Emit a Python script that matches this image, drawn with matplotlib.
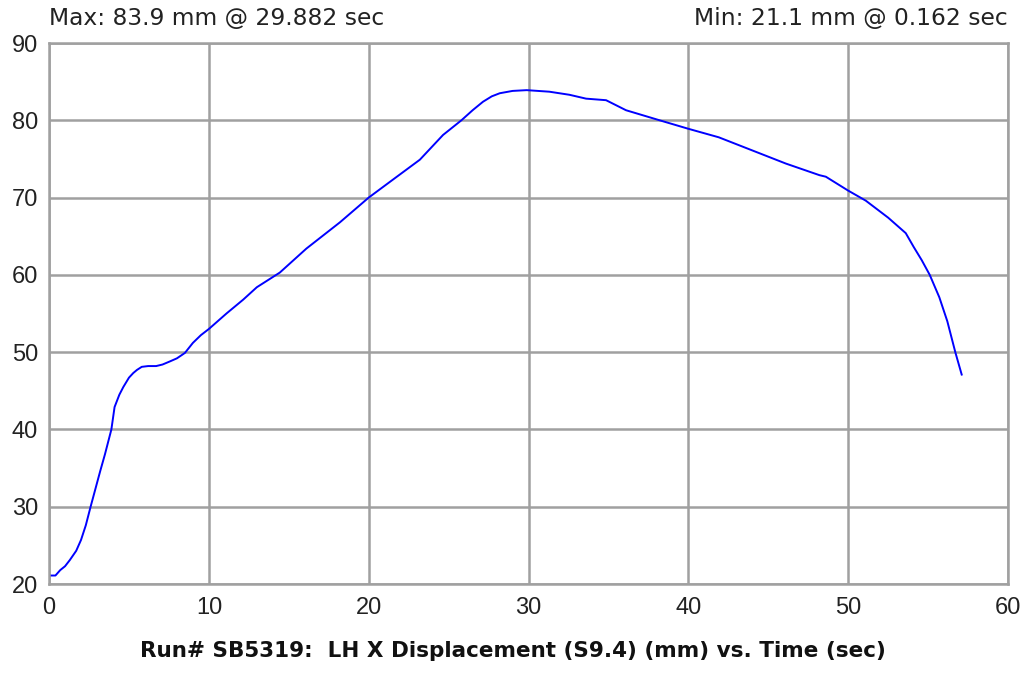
import numpy as np
import matplotlib.pyplot as plt

# time (sec) and LH X displacement (mm)
time_sec = [0.0, 0.162, 0.4, 0.7, 1.0, 1.3, 1.7, 2.0, 2.3, 2.6, 2.9, 3.2, 3.5,
            3.9, 4.1, 4.4, 4.65, 5.0, 5.27, 5.5, 5.8, 6.2, 6.7, 7.1, 7.56, 8.0,
            8.5, 9.0, 9.5, 10.0, 11.1, 12.15, 13.0, 14.44, 16.1, 18.2,
            20.0, 21.5, 23.2, 24.65, 25.8, 26.5, 27.15, 27.7, 28.2, 29.0,
            29.882, 31.3, 32.56, 33.6, 34.85, 36.1, 38.2, 40.0, 41.9, 44.0,
            46.1, 48.2, 48.6, 50.0, 51.1, 52.5, 53.6, 54.1, 54.6, 55.1, 55.7,
            56.2, 56.7, 57.1]
disp_mm = [21.1, 21.1, 21.1, 21.8, 22.3, 23.1, 24.3, 25.7, 27.6, 30.0, 32.3,
           34.6, 36.8, 40.0, 42.9, 44.5, 45.5, 46.7, 47.3, 47.7, 48.1, 48.2,
           48.2, 48.4, 48.8, 49.2, 49.9, 51.2, 52.2, 53.0, 55.0, 56.8, 58.4,
           60.3, 63.4, 66.8, 70.0, 72.3, 74.9, 78.1, 80.0, 81.3, 82.4, 83.1,
           83.5, 83.8, 83.9, 83.7, 83.3, 82.8, 82.6, 81.3, 80.0, 78.9, 77.8,
           76.1, 74.4, 72.9, 72.7, 70.9, 69.6, 67.4, 65.4, 63.6, 61.9, 60.0,
           57.1, 54.0, 50.0, 47.1]

x_ticks = [0, 10, 20, 30, 40, 50, 60]
y_ticks = [20, 30, 40, 50, 60, 70, 80, 90]

max_label = "Max: 83.9 mm @ 29.882 sec"
min_label = "Min: 21.1 mm @ 0.162 sec"
title = "Run# SB5319:  LH X Displacement (S9.4) (mm) vs. Time (sec)"

plt.rcParams['font.family'] = ['Liberation Sans', 'DejaVu Sans']

grid_col = '#a0a0a0'
text_col = '#222222'

fig = plt.figure(figsize=(10.26, 6.74), dpi=100)
ax = fig.add_axes([0.0478, 0.1335, 0.9347, 0.8027])

ax.plot(time_sec, disp_mm, color='#0000ff', lw=1.4)

ax.set_xlim(0, 60)
ax.set_ylim(20, 90)
ax.set_xticks(x_ticks)
ax.set_yticks(y_ticks)
ax.grid(True, color=grid_col, lw=1.8)
ax.set_axisbelow(True)
for s in ax.spines.values():
    s.set_color(grid_col)
    s.set_linewidth(1.8)
ax.tick_params(length=0, labelsize=17, labelcolor=text_col)
ax.tick_params(axis='x', pad=9)
ax.tick_params(axis='y', pad=8)

fig.text(0.0478, 0.955, max_label, ha='left', va='bottom', fontsize=16.8,
         family='DejaVu Sans', color=text_col)
fig.text(0.9825, 0.955, min_label, ha='right', va='bottom', fontsize=16.8,
         family='DejaVu Sans', color=text_col)
fig.text(0.4995, 0.02, title, ha='center', va='bottom', fontsize=15.5,
         fontweight='bold', family='DejaVu Sans', color='#111111')

plt.savefig('out.png', dpi=100)
plt.close()
